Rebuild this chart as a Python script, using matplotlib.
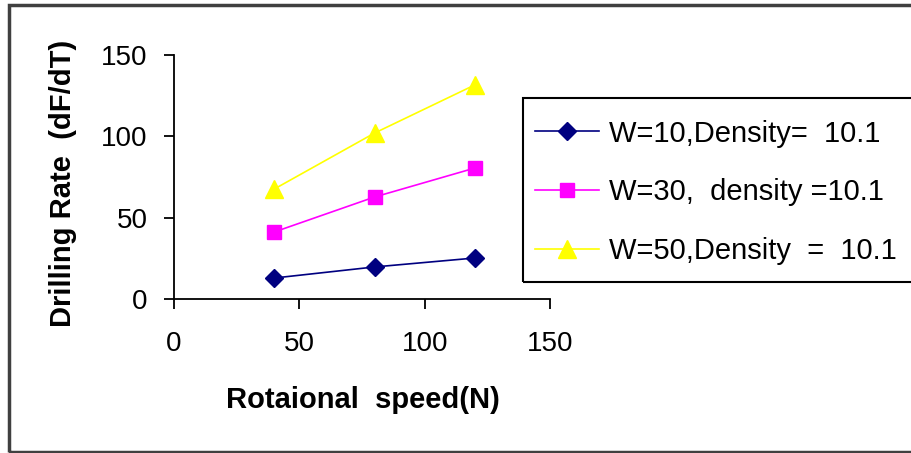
import matplotlib; matplotlib.use("Agg")
import matplotlib.pyplot as plt
from matplotlib.patches import Rectangle

speed = [40, 80, 120]
w10 = [12.9, 19.7, 25.2]
w30 = [41.2, 62.7, 80.5]
w50 = [67.6, 102.0, 131.6]
labels = ["W=10,Density=  10.1", "W=30,  density =10.1", "W=50,Density  =  10.1"]
ticks = [0, 50, 100, 150]

plt.rcParams["font.family"] = ["Liberation Sans", "DejaVu Sans"]
fig = plt.figure(figsize=(9.12, 4.53), dpi=100)
ax = fig.add_axes([174/912, 1-299/453, 376/912, 244/453])

ax.plot(speed, w10, color="#000080", marker="D", ms=9, lw=1.2, label=labels[0])
ax.plot(speed, w30, color="#ff00ff", marker="s", ms=10, lw=1.2, label=labels[1])
ax.plot(speed, w50, color="#ffff00", marker="^", ms=13, lw=1.2, label=labels[2])

ax.set_xlim(0, 150); ax.set_ylim(0, 150)
ax.set_xticks(ticks); ax.set_yticks(ticks)
ax.spines[["top", "right"]].set_visible(False)
for s in ("left", "bottom"): ax.spines[s].set_linewidth(1.3)
ax.tick_params(axis="both", direction="out", length=7, width=1.3, labelsize=20)
ax.tick_params(axis="x", pad=16); ax.tick_params(axis="y", pad=12)

fig.text(63/912, 1-183/453, "Drilling Rate  (dF/dT)", rotation=90, ha="center", va="center",
         fontsize=21, fontweight="bold")
fig.text(363/912, 1-400/453, "Rotaional  speed(N)", ha="center", va="center",
         fontsize=21, fontweight="bold")

# legend without its own frame; box drawn separately so it runs off the right edge like the original
fig.legend(loc="upper left", bbox_to_anchor=(523/912, 1-108/453), fontsize=21, frameon=False,
           handlelength=2.2, handletextpad=0.35, labelspacing=1.05, borderpad=0.4,
           borderaxespad=0)
fig.add_artist(Rectangle((523/912, 1-282/453), 400/912, 184/453, transform=fig.transFigure,
                         fill=False, ec="black", lw=1.5))

fig.add_artist(Rectangle((9/912, 1/453), 1.2, 447/453, transform=fig.transFigure,
                         fill=False, ec="#404040", lw=2.5))
fig.savefig("out.png", dpi=100)
